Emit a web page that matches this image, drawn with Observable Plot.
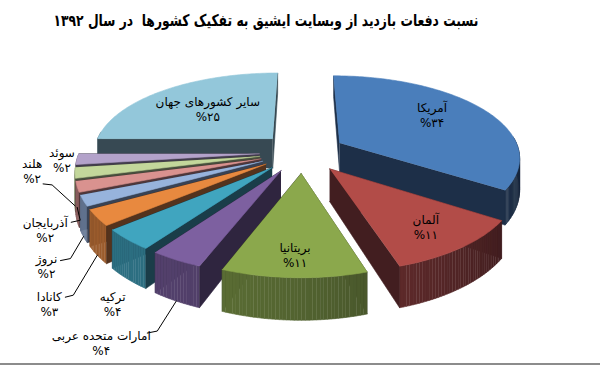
<!DOCTYPE html>
<html><head><meta charset="utf-8">
<script src="https://cdn.jsdelivr.net/npm/d3@7"></script>
<script src="https://cdn.jsdelivr.net/npm/@observablehq/plot@0.6"></script>
<style>
body{margin:0;background:#fff;}
#wrap{width:600px;height:366px;position:relative;overflow:hidden;background:#fff;}
#title{height:36px;width:532px;position:relative;}
#title span{position:absolute;top:11px;left:266px;white-space:pre;font:bold 16px "DejaVu Sans";line-height:20px;direction:rtl;color:#000;transform-origin:0 50%;}
#rule{position:absolute;left:0;top:363px;width:600px;height:2px;background:#8c8c8c}
</style></head><body>
<div id="wrap"><div id="title"><span id="tt">نسبت دفعات بازدید از وبسایت ایشیق به تفکیک کشورها  در سال ۱۳۹۲</span></div><div id="chart"></div><div id="rule"></div></div>
<script>
// ---- data ----
const countries = ["آمریکا","آلمان","بریتانیا","امارات متحده عربی","ترکیه","کانادا","نروژ","آذربایجان","هلند","سوئد","سایر کشورهای جهان"];
const shares = [34,11,11,4,4,3,2,2,2,2,25];
const colors = ["#4a7ebb","#b24c48","#8ba84c","#7d60a0","#40a5bf","#e8893f","#97b3dc","#d9928f","#c3d79b","#b3a2ca","#93c7da"];
const faDigits = s => String(s).replace(/\d/g, d => "۰۱۲۳۴۵۶۷۸۹"[d]);

// ---- layout (label placement, geometry) ----
const G = {cx:302, cy:152, rx:180, ry:84, bend:13.7, persp:0.16, depth:31, dpersp:0.3, explode:0.24};
const insideLabel = {"آمریکا":{a:57,r:0.68}, "آلمان":{a:142,r:0.75}, "بریتانیا":{a:182,r:0.8}, "سایر کشورهای جهان":{a:315,r:0.58}};
const outsideLabel = {
  "امارات متحده عربی":{dx:-75,dy:41.5, lead:[[46,-9.5],[56,-11.5]], h:1},
  "ترکیه":{dx:-15,dy:24.5},
  "کانادا":{dx:-48,dy:48.5, lead:[[16,-6.5],[24,-8.5]], h:1},
  "نروژ":{dx:-37,dy:29, lead:[[14,-5],[24,-7]], h:1},
  "آذربایجان":{dx:-32,dy:8.5, lead:[[26,-7.5],[35,-9.5]], h:0.6},
  "هلند":{dx:-43,dy:-35, lead:[[11,13],[20,14]], h:1},
  "سوئد":{dx:-15,dy:-31.5}
};

// fit title width to the reference (~425px wide, centred at 266)
(function(){
  const t = document.getElementById("tt");
  const w = t.getBoundingClientRect().width;
  const k = 425 / w;
  t.style.transform = `translateX(${-425/2}px) scaleX(${k})`;
})();

const rad = d => d*Math.PI/180;
function proj(px, pz, h){
  return [G.cx + G.rx*px*(1+G.persp*pz), G.cy + G.ry*pz + G.bend*pz*pz + h*G.depth*(1+G.dpersp*pz)];
}
function pt(theta, r, thm, h){
  const px = r*Math.sin(rad(theta)) + G.explode*Math.sin(rad(thm));
  const pz = -r*Math.cos(rad(theta)) - G.explode*Math.cos(rad(thm));
  return proj(px, pz, h);
}
const shade = (c, t) => d3.interpolateRgb(c, "#05050a")(t);

// build slices
const total = d3.sum(shares);
let acc = 0;
const slices = countries.map((name, i) => {
  const s = acc/total*360; acc += shares[i]; const e = acc/total*360;
  return {name, value: shares[i], color: colors[i], s, e, m:(s+e)/2};
});

let fid = 0;
function face(points, fill){ const id = fid++; return points.map(([x,y]) => ({x, y, id, fill})); }

const marks = [];
const ordered = [...slices].sort((a,b) => (-Math.cos(rad(a.m))) - (-Math.cos(rad(b.m))));
for (const sl of ordered){
  const arc = [];
  const n = Math.max(2, Math.ceil(sl.e - sl.s));
  for (let k=0;k<=n;k++) arc.push(sl.s + (sl.e-sl.s)*k/n);
  const radialFace = th => face([pt(th,0,sl.m,0), pt(th,1,sl.m,0), pt(th,1,sl.m,1), pt(th,0,sl.m,1)], shade(sl.color, 0.65));
  const startVis = Math.sin(rad(sl.s)) < -1e-6;
  const endVis = Math.sin(rad(sl.e)) > 1e-6;
  const hidden = [], visible = [];
  (startVis ? visible : hidden).push(...radialFace(sl.s));
  (endVis ? visible : hidden).push(...radialFace(sl.e));
  const rim = [];
  for (let k=0;k<arc.length-1;k++){
    const a0 = arc[k], a1 = arc[k+1], am = (a0+a1)/2;
    if (-Math.cos(rad(am)) < -0.08) continue;
    const t = Math.max(0.28, Math.min(0.72, 0.58 - 0.24*Math.cos(rad(am-230))));
    rim.push(...face([pt(a0,1,sl.m,0), pt(a1,1,sl.m,0), pt(a1,1,sl.m,1), pt(a0,1,sl.m,1)], shade(sl.color, t)));
  }
  const top = face([pt(sl.s,0,sl.m,0), ...arc.map(a => pt(a,1,sl.m,0))], sl.color);
  for (const group of [hidden, rim, visible, top]){
    if (!group.length) continue;
    marks.push(Plot.line(group, {x:"x", y:"y", z:"id", fill:"fill", stroke:"fill", strokeWidth:0.6, curve:"linear"}));
  }
}

// labels
const labels = [], leaders = [];
for (const sl of slices){
  const txt = sl.name + "\n%" + faDigits(sl.value);
  if (insideLabel[sl.name]){
    const L = insideLabel[sl.name];
    const [x,y] = pt(L.a, L.r, sl.m, 0);
    labels.push({x, y, txt});
  } else {
    const L = outsideLabel[sl.name];
    const [ax, ay] = pt(sl.m, 1, sl.m, 1);
    const x = ax + L.dx, y = ay + L.dy;
    labels.push({x, y, txt});
    if (L.lead){
      const [ex, ey] = pt(sl.m, 1, sl.m, L.h);
      const id = sl.name;
      leaders.push({x: x+L.lead[0][0], y: y+L.lead[0][1], id});
      leaders.push({x: x+L.lead[1][0], y: y+L.lead[1][1], id});
      leaders.push({x: ex, y: ey, id});
    }
  }
}
marks.push(Plot.line(leaders, {x:"x", y:"y", z:"id", stroke:"#000", strokeWidth:1}));
marks.push(Plot.text(labels, {x:"x", y:"y", text:"txt", fontSize:12, fontFamily:"DejaVu Sans", fill:"#000", lineHeight:1.25}));

const chart = Plot.plot({
  width:600, height:330, margin:0,
  x:{domain:[0,600], range:[0,600], axis:null},
  y:{domain:[36,366], range:[0,330], axis:null},
  style:{background:"#fff"},
  marks
});
document.getElementById("chart").appendChild(chart);
</script>
</body></html>
